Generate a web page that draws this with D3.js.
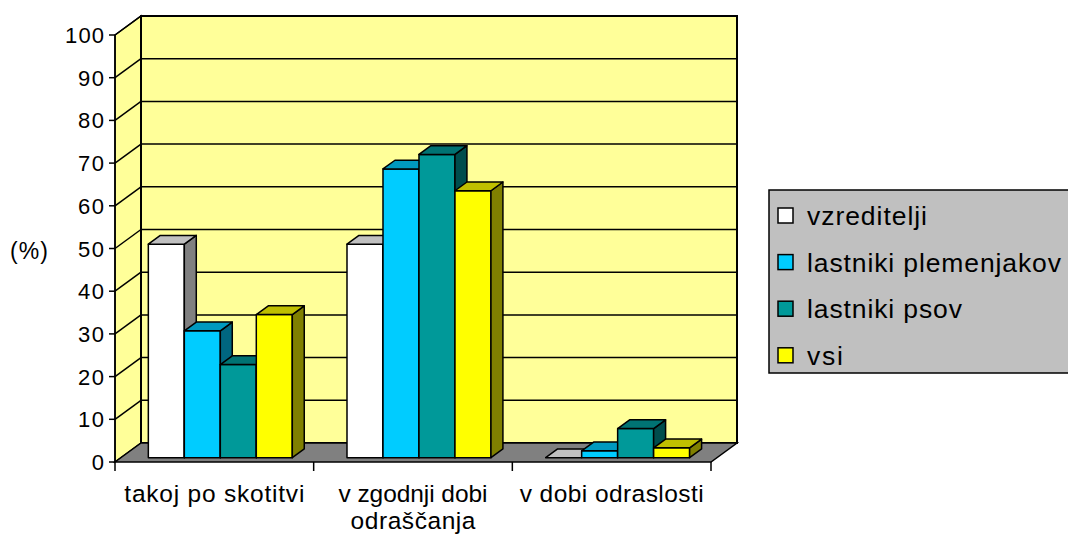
<!DOCTYPE html>
<html><head><meta charset="utf-8">
<script src="https://cdn.jsdelivr.net/npm/d3@7"></script>
<style>body{margin:0;background:#fff}svg{display:block}text{font-family:"Liberation Sans",Arial,sans-serif;fill:#000}</style>
</head><body>
<svg id="c" width="1068" height="536"></svg>
<script>
const categories = ["takoj po skotitvi", "v zgodnji dobi|odraščanja", "v dobi odraslosti"];
const seriesNames = ["vzreditelji", "lastniki plemenjakov", "lastniki psov", "vsi"];
const vzreditelji = [50, 50, 0];
const lastnikiPlemenjakov = [29.7, 67.6, 1.6];
const lastnikiPsov = [21.8, 71, 6.8];
const vsi = [33.5, 62.5, 2.3];
const yTicks = [0, 10, 20, 30, 40, 50, 60, 70, 80, 90, 100];
const seriesValues = [vzreditelji, lastnikiPlemenjakov, lastnikiPsov, vsi];
const colors = [
  {front:"#FFFFFF", top:"#C0C0C0", side:"#808080"},
  {front:"#00CCFF", top:"#0099BF", side:"#006680"},
  {front:"#009999", top:"#007373", side:"#004D4D"},
  {front:"#FFFF00", top:"#BFBF00", side:"#808000"}
];

const svg = d3.select("#c");
const x0 = d3.scaleBand().domain(categories).range([115, 711]).padding(0);
const x1 = d3.scaleBand().domain(seriesNames).range([0, x0.bandwidth()]).paddingInner(0).paddingOuter(0.76);
const y = d3.scaleLinear().domain([0, 100]).range([462, 35]);
const dX = d3.scaleLinear().domain([0, 1]).range([0, 26]);
const dY = d3.scaleLinear().domain([0, 1]).range([0, -19]);
const D = 1;

const g = svg.append("g");
g.append("polygon")
  .attr("points", [[115, y(100)], [115 + dX(D), y(100) + dY(D)], [115 + dX(D), y(0) + dY(D)], [115, y(0)]].join(" "))
  .attr("fill", "#FFFF99").attr("stroke", "#000").attr("stroke-width", 1.5);
g.append("rect")
  .attr("x", 115 + dX(D)).attr("y", y(100) + dY(D))
  .attr("width", 711 - 115).attr("height", y(0) - y(100))
  .attr("fill", "#FFFF99").attr("stroke", "#000").attr("stroke-width", 2);
g.append("polygon")
  .attr("points", [[115, y(0)], [711, y(0)], [711 + dX(D), y(0) + dY(D)], [115 + dX(D), y(0) + dY(D)]].join(" "))
  .attr("fill", "#808080").attr("stroke", "#000").attr("stroke-width", 1.5);
yTicks.forEach(t => {
  if (t === 0) return;
  g.append("line").attr("x1", 115).attr("y1", y(t)).attr("x2", 115 + dX(D)).attr("y2", y(t) + dY(D))
    .attr("stroke", "#000").attr("stroke-width", 1.5);
  g.append("line").attr("x1", 115 + dX(D)).attr("y1", y(t) + dY(D)).attr("x2", 711 + dX(D)).attr("y2", y(t) + dY(D))
    .attr("stroke", "#000").attr("stroke-width", 1.5);
});

const f0 = 0.23, f1 = 0.69;
categories.forEach((cat, j) => {
  seriesNames.forEach((s, i) => {
    const v = seriesValues[i][j];
    const c = colors[i];
    const x = x0(cat) + x1(s) + dX(f0);
    const w = x1.bandwidth();
    const yT = y(v) + dY(f0), yB = y(0) + dY(f0);
    const ddx = dX(f1 - f0), ddy = dY(f1 - f0);
    const bg = g.append("g").attr("stroke", "#000").attr("stroke-width", 1.5).attr("stroke-linejoin", "round");
    if (yB - yT > 0.5) {
      bg.append("rect").attr("x", x).attr("y", yT).attr("width", w).attr("height", yB - yT).attr("fill", c.front);
      bg.append("polygon").attr("points", [[x + w, yT], [x + w + ddx, yT + ddy], [x + w + ddx, yB + ddy], [x + w, yB]].join(" ")).attr("fill", c.side);
    }
    bg.append("polygon").attr("points", [[x, yT], [x + ddx, yT + ddy], [x + w + ddx, yT + ddy], [x + w, yT]].join(" ")).attr("fill", c.top);
  });
});

g.append("line").attr("x1", 115).attr("y1", y(100)).attr("x2", 115).attr("y2", y(0)).attr("stroke", "#000").attr("stroke-width", 1.5);
yTicks.forEach(t => {
  g.append("line").attr("x1", 109).attr("y1", y(t)).attr("x2", 115).attr("y2", y(t)).attr("stroke", "#000").attr("stroke-width", 1.5);
  const s = String(t);
  g.append("text").attr("x", 104).attr("y", y(t) + 8).attr("text-anchor", "end")
    .attr("font-size", 22).attr("textLength", s.length === 3 ? 39 : s.length === 2 ? 26 : 12)
    .attr("lengthAdjust", "spacing").text(s);
});
const xEdges = categories.map(c => x0(c)).concat([x0(categories[categories.length - 1]) + x0.bandwidth()]);
xEdges.forEach(xe => {
  g.append("line").attr("x1", xe).attr("y1", y(0)).attr("x2", xe).attr("y2", y(0) + 9).attr("stroke", "#000").attr("stroke-width", 1.5);
});
const xLabelLen = {"takoj po skotitvi": 180, "v zgodnji dobi": 149, "odraščanja": 125, "v dobi odraslosti": 184};
categories.forEach(cat => {
  const lines = cat.split("|");
  const cx = x0(cat) + x0.bandwidth() / 2;
  lines.forEach((ln, k) => {
    g.append("text").attr("x", cx).attr("y", 502 + k * 27).attr("text-anchor", "middle")
      .attr("font-size", 24.5).attr("textLength", xLabelLen[ln]).attr("lengthAdjust", "spacing").text(ln);
  });
});
g.append("text").attr("x", 29).attr("y", 259).attr("text-anchor", "middle").attr("font-size", 23)
  .attr("textLength", 38).attr("lengthAdjust", "spacing").text("(%)");

const lg = svg.append("g");
lg.append("rect").attr("x", 769).attr("y", 190).attr("width", 310).attr("height", 183)
  .attr("fill", "#C0C0C0").attr("stroke", "#000").attr("stroke-width", 1.5);
const legLen = {"vzreditelji": 120, "lastniki plemenjakov": 254, "lastniki psov": 155, "vsi": 36};
seriesNames.forEach((s, i) => {
  const cy = 215.5 + i * 46.6;
  lg.append("rect").attr("x", 778).attr("y", cy - 7.5).attr("width", 15).attr("height", 15)
    .attr("fill", colors[i].front).attr("stroke", "#000").attr("stroke-width", 1.5);
  lg.append("text").attr("x", 807).attr("y", cy + 9.5).attr("font-size", 26.5)
    .attr("textLength", legLen[s]).attr("lengthAdjust", "spacing").text(s);
});
</script>
</body></html>
